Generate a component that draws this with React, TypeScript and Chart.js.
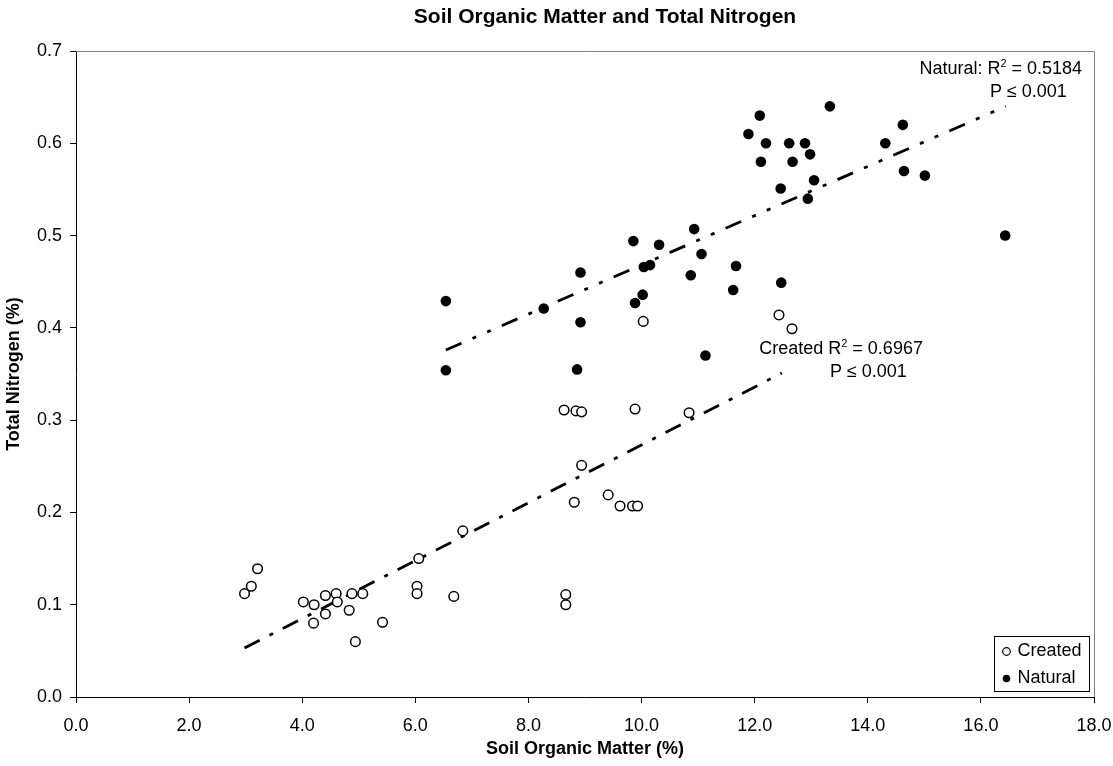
import React, { useEffect, useRef } from "react";
import { Chart, registerables } from "chart.js";

Chart.register(...registerables);

const FONT = "'Liberation Sans', Arial, Helvetica, sans-serif";

const chartTitle = "Soil Organic Matter and Total Nitrogen";
const xAxisTitle = "Soil Organic Matter (%)";
const yAxisTitle = "Total Nitrogen (%)";
const seriesNames = ["Created", "Natural"];

const createdX = [2.98, 3.1, 3.21, 4.02, 4.21, 4.2, 4.41, 4.41, 4.6, 4.62, 4.83, 4.88, 4.94, 5.07, 5.42, 6.03, 6.03, 6.06, 6.68, 6.84, 8.63, 8.84, 8.94, 8.94, 8.81, 9.41, 9.62, 9.84, 9.93, 8.66, 8.66, 9.885, 10.84, 10.03, 12.43, 12.66];
const createdY = [0.112, 0.12, 0.139, 0.103, 0.1, 0.08, 0.11, 0.09, 0.112, 0.103, 0.094, 0.112, 0.06, 0.112, 0.081, 0.12, 0.112, 0.15, 0.109, 0.18, 0.311, 0.31, 0.309, 0.251, 0.211, 0.219, 0.207, 0.207, 0.207, 0.111, 0.1, 0.312, 0.308, 0.407, 0.414, 0.399];

const naturalX = [6.54, 6.54, 8.27, 8.92, 8.92, 8.86, 9.855, 10.31, 10.93, 11.06, 10.87, 10.04, 10.15, 10.02, 9.885, 11.67, 11.62, 11.13, 12.47, 12.09, 11.89, 12.2, 12.11, 12.61, 12.89, 12.98, 12.67, 13.05, 12.46, 12.94, 13.33, 14.31, 14.62, 14.64, 15.01, 16.43];
const naturalY = [0.429, 0.354, 0.421, 0.46, 0.406, 0.355, 0.494, 0.49, 0.507, 0.48, 0.457, 0.466, 0.468, 0.436, 0.427, 0.467, 0.441, 0.37, 0.449, 0.63, 0.61, 0.6, 0.58, 0.6, 0.6, 0.588, 0.58, 0.56, 0.551, 0.54, 0.64, 0.6, 0.62, 0.57, 0.565, 0.5];

const createdTrendX = [2.98, 12.48];
const createdTrendY = [0.053, 0.351];
const naturalTrendX = [6.54, 16.44];
const naturalTrendY = [0.376, 0.64];

const naturalStat = { r2: "0.5184", p: "P \u2264 0.001" };
const createdStat = { r2: "0.6967", p: "P \u2264 0.001" };

const xTicks = { min: 0, max: 18, step: 2 };
const yTicks = { min: 0, max: 0.7, step: 0.1 };

const toPoints = (xs: number[], ys: number[]) => xs.map((x, i) => ({ x, y: ys[i] }));

function drawRich(
  ctx: CanvasRenderingContext2D,
  parts: { t: string; sup?: boolean }[],
  x: number,
  y: number,
  align: "left" | "right",
  size: number
) {
  const normal = `${size}px ${FONT}`;
  const small = `${Math.round(size * 0.62)}px ${FONT}`;
  let total = 0;
  const widths = parts.map((p) => {
    ctx.font = p.sup ? small : normal;
    const w = ctx.measureText(p.t).width;
    total += w;
    return w;
  });
  let cx = align === "left" ? x : x - total;
  ctx.textAlign = "left";
  ctx.textBaseline = "alphabetic";
  parts.forEach((p, i) => {
    ctx.font = p.sup ? small : normal;
    ctx.fillText(p.t, cx, p.sup ? y - size * 0.42 : y);
    cx += widths[i];
  });
}

const decorPlugin = {
  id: "decor",
  afterDraw(chart: any) {
    const { ctx, chartArea: a, scales } = chart;
    const xs = scales.x;
    const ys = scales.y;
    ctx.save();

    // plot frame top and right
    ctx.strokeStyle = "#808080";
    ctx.lineWidth = 1;
    ctx.beginPath();
    ctx.moveTo(a.left, a.top + 0.5);
    ctx.lineTo(a.right + 0.5, a.top + 0.5);
    ctx.lineTo(a.right + 0.5, a.bottom);
    ctx.stroke();

    // title
    ctx.fillStyle = "#000";
    ctx.font = `bold 21px ${FONT}`;
    ctx.textAlign = "center";
    ctx.textBaseline = "alphabetic";
    ctx.fillText(chartTitle, 605, 23);

    // regression annotations
    const fs = 18;
    drawRich(
      ctx,
      [{ t: "Natural: R" }, { t: "2", sup: true }, { t: " = " + naturalStat.r2 }],
      xs.getPixelForValue(17.79),
      ys.getPixelForValue(0.675),
      "right",
      fs
    );
    drawRich(ctx, [{ t: naturalStat.p }], xs.getPixelForValue(17.52), ys.getPixelForValue(0.65), "right", fs);
    drawRich(
      ctx,
      [{ t: "Created R" }, { t: "2", sup: true }, { t: " = " + createdStat.r2 }],
      xs.getPixelForValue(12.08),
      ys.getPixelForValue(0.3716),
      "left",
      fs
    );
    drawRich(ctx, [{ t: createdStat.p }], xs.getPixelForValue(13.33), ys.getPixelForValue(0.3467), "left", fs);

    // legend
    const lx = a.right - 99.5;
    const ly = a.bottom - 60.5;
    const lw = 95;
    const lh = 55;
    ctx.fillStyle = "#fff";
    ctx.fillRect(lx, ly, lw, lh);
    ctx.strokeStyle = "#000";
    ctx.lineWidth = 1;
    ctx.strokeRect(lx, ly, lw, lh);
    const rows = [
      { name: seriesNames[0], filled: false, y: ly + 15 },
      { name: seriesNames[1], filled: true, y: ly + 42 },
    ];
    rows.forEach((r) => {
      ctx.beginPath();
      ctx.arc(lx + 12, r.y, 3.8, 0, Math.PI * 2);
      if (r.filled) {
        ctx.fillStyle = "#000";
        ctx.fill();
      } else {
        ctx.fillStyle = "#fff";
        ctx.fill();
        ctx.strokeStyle = "#000";
        ctx.lineWidth = 1.2;
        ctx.stroke();
      }
      ctx.fillStyle = "#000";
      ctx.font = `18px ${FONT}`;
      ctx.textAlign = "left";
      ctx.textBaseline = "middle";
      ctx.fillText(r.name, lx + 23, r.y);
    });

    ctx.restore();
  },
};

export default function App() {
  const ref = useRef<HTMLCanvasElement | null>(null);

  useEffect(() => {
    document.body.style.margin = "0";
    const canvas = ref.current;
    if (!canvas) return;
    const chart = new Chart(canvas, {
      type: "scatter",
      data: {
        datasets: [
          {
            label: seriesNames[0],
            data: toPoints(createdX, createdY),
            pointStyle: "circle",
            pointRadius: 4.8,
            pointBackgroundColor: "#fff",
            pointBorderColor: "#000",
            pointBorderWidth: 1.5,
            showLine: false,
          },
          {
            label: seriesNames[1],
            data: toPoints(naturalX, naturalY),
            pointStyle: "circle",
            pointRadius: 5.3,
            pointBackgroundColor: "#000",
            pointBorderColor: "#000",
            pointBorderWidth: 0,
            showLine: false,
          },
          {
            label: "Created trend",
            data: toPoints(createdTrendX, createdTrendY),
            showLine: true,
            borderColor: "#000",
            borderWidth: 2.8,
            borderDash: [17, 11, 4, 11],
            pointRadius: 0,
            fill: false,
          },
          {
            label: "Natural trend",
            data: toPoints(naturalTrendX, naturalTrendY),
            showLine: true,
            borderColor: "#000",
            borderWidth: 2.8,
            borderDash: [17, 12, 4, 12, 4, 12],
            pointRadius: 0,
            fill: false,
          },
        ],
      },
      options: {
        responsive: false,
        animation: false,
        devicePixelRatio: 1,
        layout: { padding: { top: 51, right: 19, bottom: 0, left: 0 } },
        plugins: {
          legend: { display: false },
          tooltip: { enabled: false },
          title: { display: false },
        },
        scales: {
          x: {
            type: "linear",
            min: xTicks.min,
            max: xTicks.max,
            afterFit: (s: any) => {
              s.height = 69;
              s.paddingLeft = 0;
              s.paddingRight = 0;
            },
            ticks: {
              stepSize: xTicks.step,
              color: "#000",
              font: { family: FONT, size: 18 },
              padding: 12,
              callback: (v: any) => Number(v).toFixed(1),
            },
            grid: {
              drawOnChartArea: false,
              drawTicks: true,
              tickLength: 6,
              tickColor: "#000",
            },
            border: { display: true, color: "#000", width: 1 },
            title: {
              display: true,
              text: xAxisTitle,
              color: "#000",
              font: { family: FONT, size: 18, weight: "bold" },
              padding: { top: 0, bottom: 6 },
            },
          },
          y: {
            type: "linear",
            min: yTicks.min,
            max: yTicks.max,
            afterFit: (s: any) => {
              s.width = 76;
              s.paddingTop = 0;
              s.paddingBottom = 0;
            },
            ticks: {
              stepSize: yTicks.step,
              color: "#000",
              font: { family: FONT, size: 18 },
              padding: 8,
              callback: (v: any) => Number(v).toFixed(1),
            },
            grid: {
              drawOnChartArea: false,
              drawTicks: true,
              tickLength: 6,
              tickColor: "#000",
            },
            border: { display: true, color: "#000", width: 1 },
            title: {
              display: true,
              text: yAxisTitle,
              color: "#000",
              font: { family: FONT, size: 18, weight: "bold" },
              padding: { top: 3, bottom: 0 },
            },
          },
        },
      },
      plugins: [decorPlugin],
    } as any);
    return () => chart.destroy();
  }, []);

  return (
    <div style={{ position: "absolute", left: 0, top: 0, width: 1113, height: 766, background: "#fff" }}>
      <canvas ref={ref} width={1113} height={766} style={{ display: "block" }} />
    </div>
  );
}
